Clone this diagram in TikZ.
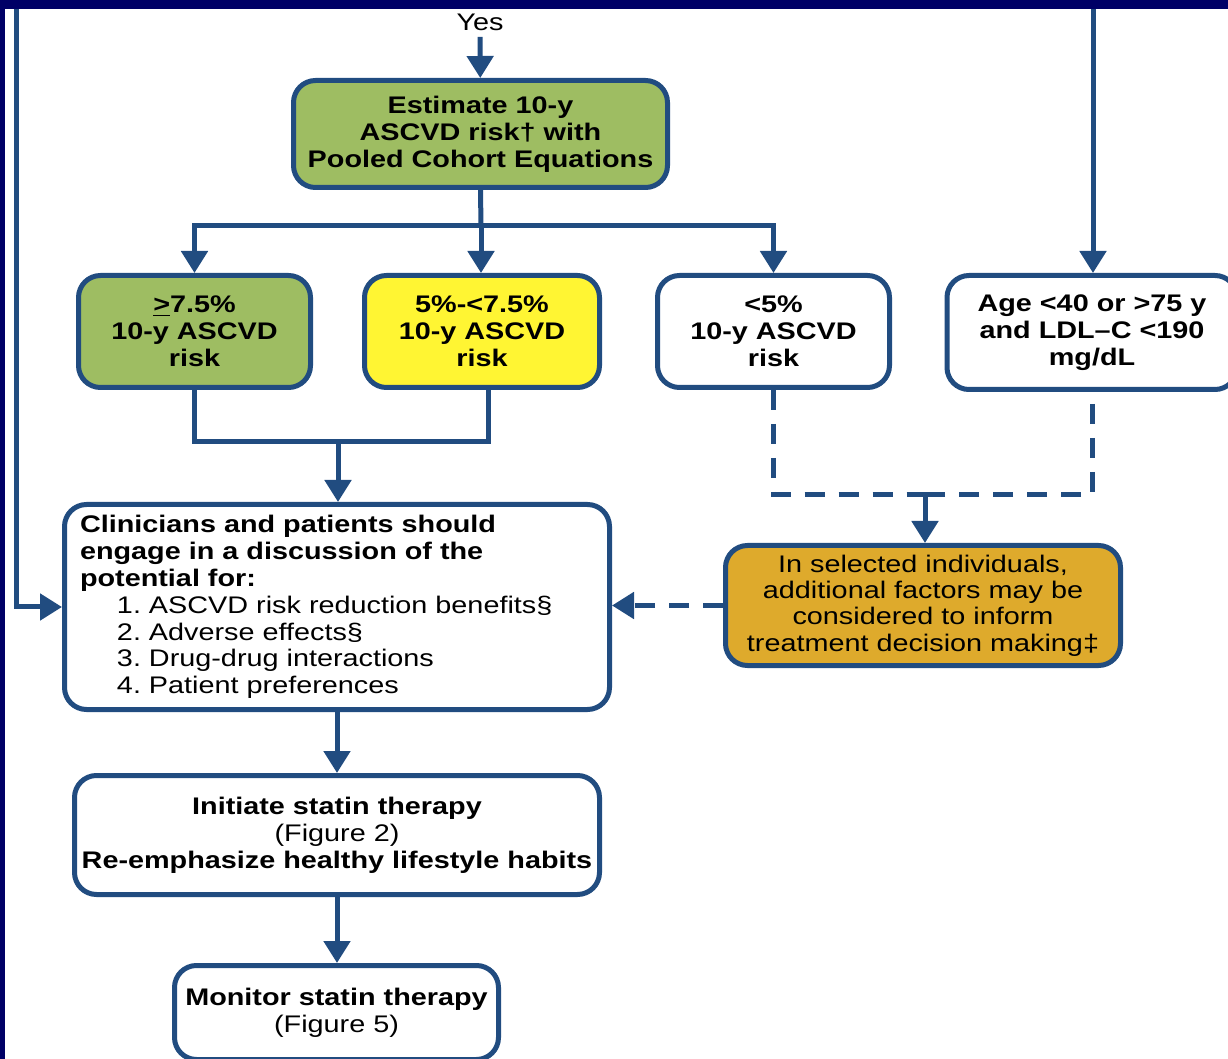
\documentclass[tikz,border=0pt]{standalone}
\usepackage{fontspec}
\setmainfont{Liberation Sans}[FakeStretch=1.2]
\usetikzlibrary{arrows.meta}
\definecolor{edge}{RGB}{33,76,128}
\definecolor{navy}{RGB}{0,0,102}
\definecolor{gfill}{RGB}{158,189,98}
\definecolor{yfill}{RGB}{255,245,51}
\definecolor{ofill}{RGB}{222,170,44}
\newcommand{\fsz}{\fontsize{12}{13.4}\selectfont}
\frenchspacing
\begin{document}
\begin{tikzpicture}[x=0.5pt,y=-0.5pt,
  box/.style={draw=edge, line width=2.5pt, rounded corners=11pt, inner sep=0pt, align=center, fill=white, font=\fsz},
  bbox/.style={box, font=\fsz\bfseries},
  conn/.style={draw=edge, line width=2.5pt},
  arr/.style={conn, -{Triangle[length=11pt,width=13pt]}},
  dsh/.style={dash pattern=on 10pt off 7pt}]
\useasboundingbox (0,0) rectangle (1228,1059);
\clip (0,0) rectangle (1228,1059);
\fill[white] (0,0) rectangle (1228,1059);
\fill[navy] (0,0) rectangle (1228,9);
\fill[navy] (0,0) rectangle (5,1059);

\node[font=\fsz, inner sep=3pt] (yes) at (480,22) {Yes};
\node[bbox, fill=gfill, minimum width=187pt, minimum height=53.5pt] (est) at (480.5,134) {Estimate 10-y\\ASCVD risk† with\\Pooled Cohort Equations};
\node[bbox, fill=gfill, minimum width=116pt, minimum height=56pt] (g) at (194.5,331.5) {\underline{>}7.5\%\\10-y ASCVD\\risk};
\node[bbox, fill=yfill, minimum width=117.5pt, minimum height=56pt] (yel) at (482,331.5) {5\%-<7.5\%\\10-y ASCVD\\risk};
\node[bbox, minimum width=116pt, minimum height=56pt] (low) at (773.5,331.5) {<5\%\\10-y ASCVD\\risk};
\node[bbox, minimum width=145pt, minimum height=57pt] (age) at (1092,332.5) {Age <40 or >75 y\\and LDL–C <190\\mg/dL};
\node[box, minimum width=272.5pt, minimum height=102.5pt, text width=257pt, align=left] (clin) at (337,607)
 {\textbf{Clinicians and patients should}\\\textbf{engage in a discussion of the}\\\textbf{potential for:}\\
  \hspace*{18.5pt}1. ASCVD risk reduction benefits§\\
  \hspace*{18.5pt}2. Adverse effects§\\
  \hspace*{18.5pt}3. Drug-drug interactions\\
  \hspace*{18.5pt}4. Patient preferences};
\node[box, fill=ofill, minimum width=197.5pt, minimum height=60pt, font=\fontsize{12}{13.2}\selectfont] (sel) at (923,605.5) {In selected individuals,\\additional factors may be\\considered to inform\\treatment decision making‡};
\node[box, minimum width=262.5pt, minimum height=59.5pt] (init) at (337,835) {\textbf{Initiate statin therapy}\\(Figure 2)\\\textbf{Re-emphasize healthy lifestyle habits}};
\node[box, minimum width=162pt, minimum height=47pt] (mon) at (336.5,1012.5) {\textbf{Monitor statin therapy}\\(Figure 5)};

\coordinate (tl) at (16,9);
\coordinate (tr) at (1093,9);
\coordinate (j1) at (481,226);
\coordinate (j2) at (338,442);
\coordinate (j3) at (925,495);

\draw[arr] (yes) -- (est);
\draw[conn] (est.south) -- (j1);
\draw[arr] (j1) -| (g);
\draw[arr] (j1) -- (j1 |- yel.north);
\draw[arr] (j1) -| (low);
\draw[arr] (tl) |- (clin.west);
\draw[arr] (tr) -- (tr |- age.north);
\draw[conn] (g.south) |- (j2) -| ([xshift=3pt]yel.south);
\draw[arr] (j2) -- (j2 |- clin.north);
\draw[conn, dsh] (low.south) |- (j3);
\draw[conn, dsh] ([yshift=-6pt]age.south) |- (j3);
\draw[arr] (j3) -- (j3 |- sel.north);
\draw[arr, dsh] (sel.west) -- (sel.west -| clin.east);
\draw[arr] (clin) -- (init);
\draw[arr] (init.south) -- (init.south |- mon.north);
\end{tikzpicture}
\end{document}
